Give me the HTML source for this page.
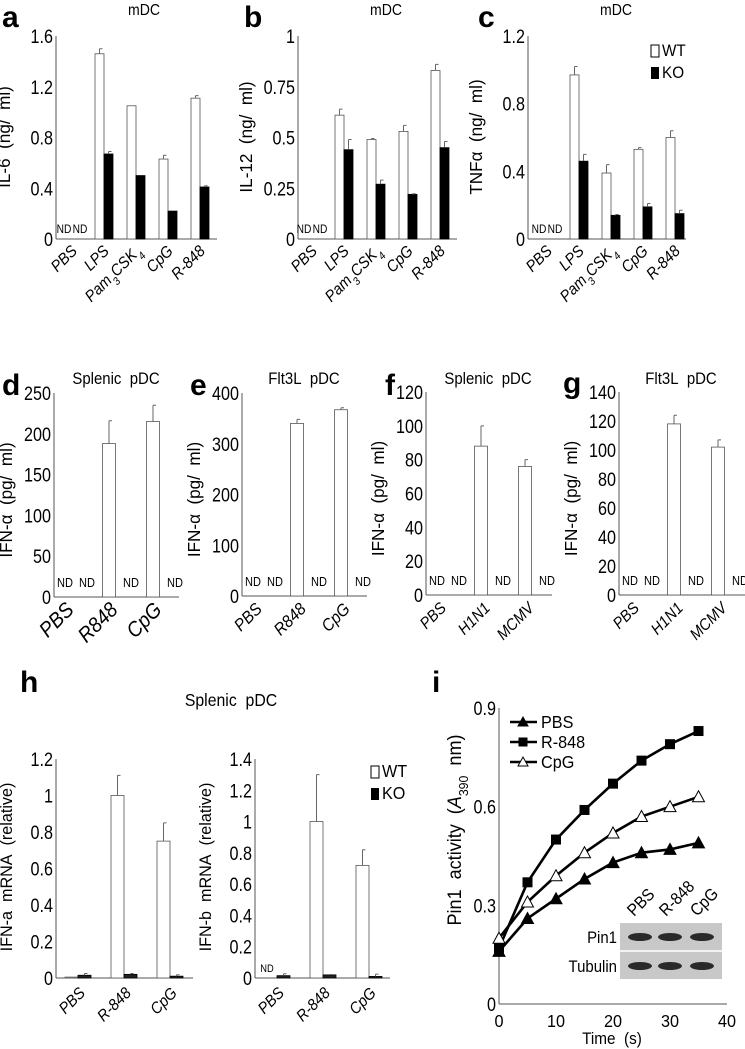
<!DOCTYPE html>
<html><head><meta charset="utf-8">
<style>
html,body{margin:0;padding:0;background:#fff;}
svg{display:block;font-family:"Liberation Sans",sans-serif;}
</style></head>
<body>
<svg id="fig" width="745" height="1049" viewBox="0 0 745 1049" xmlns="http://www.w3.org/2000/svg"></svg>
<script>
// ---- data ----
const mdcCats = ["PBS","LPS","Pam3CSK4","CpG","R-848"];
const il6WT = [0,1.46,1.05,0.63,1.11];
const il6WTerr = [0,0.04,0,0.03,0.02];
const il6KO = [0,0.67,0.50,0.22,0.41];
const il6KOerr = [0,0.02,0,0,0.01];
const il12WT = [0,0.61,0.49,0.53,0.83];
const il12WTerr = [0,0.03,0.005,0.03,0.03];
const il12KO = [0,0.44,0.27,0.22,0.45];
const il12KOerr = [0,0.05,0.02,0.003,0.03];
const tnfWT = [0,0.97,0.39,0.53,0.60];
const tnfWTerr = [0,0.05,0.05,0.01,0.04];
const tnfKO = [0,0.46,0.14,0.19,0.15];
const tnfKOerr = [0,0.04,0.005,0.02,0.02];
const ticksA = ["0","0.4","0.8","1.2","1.6"];
const ticksB = ["0","0.25","0.5","0.75","1"];
const ticksC = ["0","0.4","0.8","1.2"];

const dCats = ["PBS","R848","CpG"];
const dWT = [null,188,215];
const dWTerr = [0,28,20];
const eWT = [null,340,367];
const eWTerr = [0,8,4];
const fgCats = ["PBS","H1N1","MCMV"];
const fWT = [null,88,76];
const fWTerr = [0,12,4];
const gWT = [null,118,102];
const gWTerr = [0,6,5];
const ticksD = ["0","50","100","150","200","250"];
const ticksE = ["0","100","200","300","400"];
const ticksF = ["0","20","40","60","80","100","120"];
const ticksG = ["0","20","40","60","80","100","120","140"];

const hCats = ["PBS","R-848","CpG"];
const haWT = [0.005,1.0,0.75];
const haWTerr = [0,0.11,0.1];
const haKO = [0.015,0.02,0.01];
const haKOerr = [0.01,0.005,0.008];
const hbWT = [null,1.0,0.72];
const hbWTerr = [0,0.3,0.1];
const hbKO = [0.015,0.02,0.01];
const hbKOerr = [0.012,0.002,0.015];
const ticksHa = ["0","0.2","0.4","0.6","0.8","1","1.2"];
const ticksHb = ["0","0.2","0.4","0.6","0.8","1","1.2","1.4"];

const iTime = [0,5,10,15,20,25,30,35];
const iPBS = [0.16,0.26,0.32,0.38,0.43,0.46,0.47,0.49];
const iR848 = [0.17,0.37,0.50,0.59,0.67,0.74,0.79,0.83];
const iCpG = [0.20,0.31,0.39,0.46,0.52,0.57,0.60,0.63];
const iTicksY = ["0","0.3","0.6","0.9"];
const iTicksX = ["0","10","20","30","40"];

// ---- helpers ----
const NS="http://www.w3.org/2000/svg";
const svg=document.getElementById('fig');
function mk(tag,attrs,parent){const e=document.createElementNS(NS,tag);for(const k in attrs)e.setAttribute(k,attrs[k]);(parent||svg).appendChild(e);return e;}
function txt(s,attrs,parent){const e=mk('text',attrs,parent);e.textContent=s;return e;}
function cond(x,y,sx){return `translate(${x},${y}) scale(${sx},1)`;}
function panelLetter(s,x,y){const t=txt(s,{x:x,y:y,'font-size':30,'font-weight':'bold'});

}

function axes(g,ax,y0,yTop,xEnd,ticks,fs){
  const l=mk('line',{x1:ax,y1:yTop,x2:ax,y2:y0,stroke:'#555','stroke-width':1},g);
  
  
  const b=mk('line',{x1:ax,y1:y0,x2:xEnd,y2:y0,stroke:'#555','stroke-width':1},g);
  
  
  const n=ticks.length-1;
  ticks.forEach((t,i)=>{const y=y0-(y0-yTop)*i/n;
    const e=txt(t,{x:0,y:0,'text-anchor':'end','font-size':fs||19,transform:cond(ax-3,y+7,0.85)},g);
    
    });
}
function ylabel(g,s,x,y,fs){const e=txt('',{x:0,y:0,'font-size':fs||17,'text-anchor':'middle',transform:`translate(${x},${y}) rotate(-90) scale(0.95,1)`},g);
  e.innerHTML=s;
  
  }
function title(g,s,x,y,fs){const e=txt('',{x:0,y:0,'font-size':fs||17,'text-anchor':'middle',transform:cond(x,y,0.88)},g);
  e.innerHTML=s;
  
  }
function xlabel(g,s,x,y,fs,italic){const e=txt('',{x:0,y:0,'font-size':fs,'text-anchor':'end','font-style':italic?'italic':'normal',transform:`translate(${x},${y}) rotate(-45) scale(0.92,1)`},g);
  e.innerHTML=s;
  
  }
function bar(g,x,w,val,err,sc,y0,fill,name){
  const y=sc(val);
  const r=mk('rect',{x:x,y:y,width:w,height:Math.max(0,y0-y),fill:fill,stroke:fill==='#fff'?'#555':'#000','stroke-width':0.8},g);
  
  
  if(err>0){const ye=sc(val+err);const cx=x+w/2;
    const e=mk('path',{d:`M${cx},${y} V${ye} M${cx},${ye} H${cx+3}`,stroke:'#666','stroke-width':1,fill:'none'},g);
    
    }
}
function nd(g,x,y,fs){const e=txt('ND',{x:0,y:0,'font-size':fs||12,'text-anchor':'middle',transform:cond(x,y,0.85)},g);
  
  }
function legend(g,x,y,gap,fs){
  const a=mk('rect',{x:x,y:y-11,width:8,height:12,fill:'#fff',stroke:'#000'},g);
  
  
  const t1=txt('WT',{x:0,y:0,'font-size':fs,transform:cond(x+11,y,0.9)},g);
  
  
  const b=mk('rect',{x:x,y:y+gap-11,width:8,height:12,fill:'#000'},g);
  
  
  const t2=txt('KO',{x:0,y:0,'font-size':fs,transform:cond(x+11,y+gap,0.9)},g);
  
  
}

// ---- panels a-c ----
function mdcPanel(name,ax,xEnd,max,ticks,wt,wte,ko,koe,lab,off){
  const g=mk('g',{});
  
  
  const y0=239,yTop=36;const sc=v=>y0-(y0-yTop)*v/max;
  axes(g,ax,y0,yTop,xEnd,ticks,19);
  mdcCats.forEach((c,i)=>{const cx=ax+off+32*i;
    if(i===0){nd(g,cx-8,233,12);nd(g,cx+8,233,12);}
    else{bar(g,cx-9,9,wt[i],wte[i],sc,y0,'#fff','bar-wt-'+c);bar(g,cx,9,ko[i],koe[i],sc,y0,'#000','bar-ko-'+c);}
    const s=c==='Pam3CSK4'?'Pam<tspan baseline-shift="sub" font-size="11">3</tspan>CSK<tspan baseline-shift="sub" font-size="11">4</tspan>':c;
    xlabel(g,s,cx+6,252,16,true);});
  ylabel(g,lab,ax-46,137,18);
  title(g,'mDC',ax+88,15,16);
}
mdcPanel('panel-a',56,217,1.6,ticksA,il6WT,il6WTerr,il6KO,il6KOerr,'IL-6&#160;&#160;(ng/&#160;&#160;ml)',16);
mdcPanel('panel-b',298,457,1,ticksB,il12WT,il12WTerr,il12KO,il12KOerr,'IL-12&#160;&#160;(ng/&#160;&#160;ml)',14);
mdcPanel('panel-c',528,686,1.2,ticksC,tnfWT,tnfWTerr,tnfKO,tnfKOerr,'TNF&#945;&#160;&#160;(ng/&#160;&#160;ml)',19);
panelLetter('a',2,27);panelLetter('b',244,27);panelLetter('c',478,27);
legend(svg,651,56,22,17);

// ---- panels d-g ----
function pdcPanel(name,ax,xEnd,y0,yTop,max,ticks,cats,wt,wte,ttl,fs){
  const g=mk('g',{});
  
  
  const sc=v=>y0-(y0-yTop)*v/max;const w=22;
  axes(g,ax,y0,yTop,xEnd,ticks,19);
  cats.forEach((c,i)=>{const wx=ax+w*(2*i+0.5),kx=ax+w*(2*i+1.5);
    if(wt[i]==null)nd(g,wx,y0-10,13);else bar(g,wx-6.5,13,wt[i],wte[i],sc,y0,'#fff','bar-wt-'+c);
    nd(g,kx,y0-10,13);
    xlabel(g,c,wx+10,y0+14,fs,true);});
  ylabel(g,'IFN-&#945;&#160;&#160;(pg/&#160;&#160;ml)',ax-42,(y0+yTop)/2+5,18);
  title(g,ttl,ax+62,384,17);
}
pdcPanel('panel-d',54,179,597,393,250,ticksD,dCats,dWT,dWTerr,'Splenic&#160;&#160;pDC',21);
pdcPanel('panel-e',242,367,596,393,400,ticksE,dCats,eWT,eWTerr,'Flt3L&#160;&#160;pDC',17);
pdcPanel('panel-f',426,552,595,392,120,ticksF,fgCats,fWT,fWTerr,'Splenic&#160;&#160;pDC',16);
pdcPanel('panel-g',619,745,595,392,140,ticksG,fgCats,gWT,gWTerr,'Flt3L&#160;&#160;pDC',16);
panelLetter('d',2,395);panelLetter('e',190,395);panelLetter('f',385,395);panelLetter('g',563,393);

// ---- panel h ----
function hPanel(name,ax,xEnd,max,ticks,wt,wte,ko,koe,lab){
  const g=mk('g',{});
  
  
  const y0=978,yTop=759;const sc=v=>y0-(y0-yTop)*v/max;
  axes(g,ax,y0,yTop,xEnd,ticks,19);
  hCats.forEach((c,i)=>{const cx=ax+22+46*i;
    if(wt[i]==null)nd(g,cx-10,972,11);else bar(g,cx-13,13,wt[i],wte[i],sc,y0,'#fff','bar-wt-'+c);
    bar(g,cx,13,ko[i],koe[i],sc,y0,'#222','bar-ko-'+c);
    xlabel(g,c,cx+8,994,16,true);});
  ylabel(g,lab,ax-44,867,17);
}
hPanel('panel-h-left',56,193,1.2,ticksHa,haWT,haWTerr,haKO,haKOerr,'IFN-a&#160;&#160;mRNA&#160;&#160;(relative)');
hPanel('panel-h-right',255,390,1.4,ticksHb,hbWT,hbWTerr,hbKO,hbKOerr,'IFN-b&#160;&#160;mRNA&#160;&#160;(relative)');
panelLetter('h',20,692);
title(svg,'Splenic&#160;&#160;pDC',231,706,18);
legend(svg,371,777,22,18);

// ---- panel i ----
(function(){
  const g=mk('g',{});
  
  
  const ax=499,y0=1004,yTop=708,xEnd=727;
  const sy=v=>y0-(y0-yTop)*v/0.9, sx=t=>ax+(xEnd-ax)*t/40;
  axes(g,ax,y0,yTop,xEnd,iTicksY,19);
  iTicksX.forEach((t,i)=>{const e=txt(t,{x:0,y:0,'font-size':18,'text-anchor':'middle',transform:cond(sx(+t),y0+23,0.9)},g);
    
    });
  const xt=txt('Time\u00a0\u00a0(s)',{x:0,y:0,'font-size':17,'text-anchor':'middle',transform:cond(612,1044,0.9)},g);
  
  
  ylabel(g,'Pin1&#160;&#160;activity&#160;&#160;(<tspan font-style="italic">A</tspan><tspan baseline-shift="sub" font-size="13">390</tspan>&#160;&#160;nm)',461,830,19);
  const bl=mk('rect',{x:620,y:923,width:102,height:56,fill:'#c8c8c8'},g);
  
  
  mk('line',{x1:620,y1:951,x2:722,y2:951,stroke:'#fff','stroke-width':1.5},g);
  [640,670,702].forEach(x=>{[937,966].forEach(y=>{const b=mk('ellipse',{cx:x,cy:y,rx:12,ry:4,fill:'#2a2a2a'},g);
    
    });});
  [['Pin1',943],['Tubulin',972]].forEach(p=>{const e=txt(p[0],{x:0,y:0,'font-size':17,'text-anchor':'end',transform:cond(617,p[1],0.88)},g);
    
    });
  [['PBS',640],['R-848',672],['CpG',703]].forEach(p=>{const e=txt(p[0],{x:0,y:0,'font-size':17,transform:`translate(${p[1]-6},${917}) rotate(-45) scale(0.9,1)`},g);
    
    });
  function series(vals,name,marker){
    const d=vals.map((v,i)=>(i?'L':'M')+sx(iTime[i])+','+sy(v)).join(' ');
    const p=mk('path',{d:d,fill:'none',stroke:'#000','stroke-width':2.6},g);
    
    
    vals.forEach((v,i)=>{const x=sx(iTime[i]),y=sy(v);let m;
      if(marker==='sq')m=mk('rect',{x:x-5,y:y-5,width:10,height:10,fill:'#000'},g);
      else m=mk('path',{d:`M${x},${y-6} L${x+6},${y+5} L${x-6},${y+5} Z`,fill:marker==='tri'?'#000':'#fff',stroke:'#000','stroke-width':1},g);
      
      });
  }
  series(iPBS,'pbs','tri');series(iR848,'r848','sq');series(iCpG,'cpg','otri');
  [['PBS','tri',722],['R-848','sq',742],['CpG','otri',762]].forEach(p=>{
    mk('line',{x1:510,y1:p[2],x2:537,y2:p[2],stroke:'#000','stroke-width':2.6},g);
    const x=523,y=p[2];
    if(p[1]==='sq')mk('rect',{x:x-4.5,y:y-4.5,width:9,height:9,fill:'#000'},g);
    else mk('path',{d:`M${x},${y-5} L${x+5},${y+4} L${x-5},${y+4} Z`,fill:p[1]==='tri'?'#000':'#fff',stroke:'#000'},g);
    const t=txt(p[0],{x:0,y:0,'font-size':18,transform:cond(541,y+6,0.9)},g);
    
    });
})();
panelLetter('i',432,692);
</script>
</body></html>
